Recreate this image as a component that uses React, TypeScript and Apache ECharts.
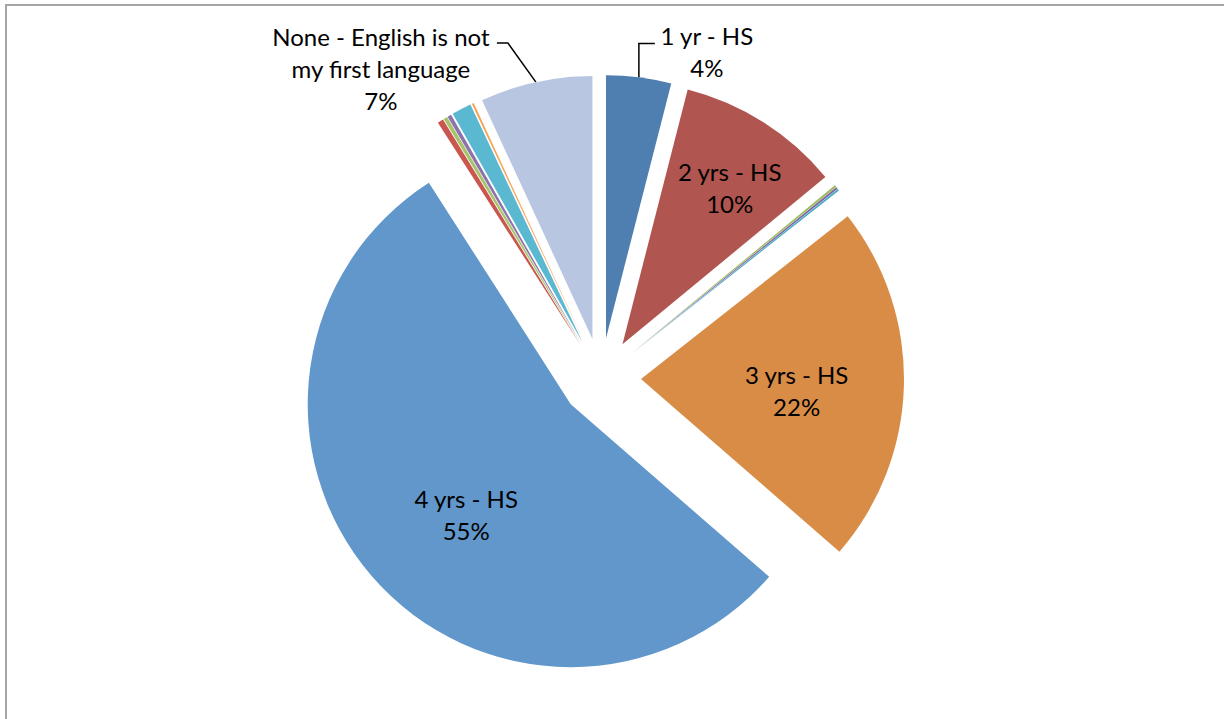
import React, { useEffect, useRef } from "react";
import * as echarts from "echarts";

// ---- data ----
const categories: string[] = [
  "1 yr - HS",
  "2 yrs - HS",
  "Other (a)",
  "Other (b)",
  "Other (c)",
  "3 yrs - HS",
  "4 yrs - HS",
  "Other (d)",
  "Other (e)",
  "Other (f)",
  "Other (g)",
  "Other (h)",
  "None - English is not my first language",
];
const counts: number[] = [33, 83, 1, 1, 1, 182, 451, 3, 2, 2, 10, 1, 57];
const sliceColors: string[] = [
  "#4F7EB0",
  "#B0554F",
  "#9BBB59",
  "#8064A2",
  "#4BACC6",
  "#D88C46",
  "#6197CB",
  "#C9564F",
  "#A6C56A",
  "#8D73AE",
  "#5AB8D1",
  "#F9A352",
  "#B9C6E1",
];
const labelWraps: Record<string, string> = {
  "None - English is not my first language": "None - English is not\nmy first language",
};

// ---- layout ----
const CX = 601;
const CY = 378;
const R = 263;
const OFFSET = 40;

type Placement =
  | { kind: "inside"; dist: number; dAngle: number }
  | { kind: "outside"; elbow: [number, number]; end: [number, number]; center: [number, number] };

const labelPlacement: Record<string, Placement> = {
  "1 yr - HS": { kind: "outside", elbow: [0, -34], end: [16, -34], center: [68, -26] },
  "2 yrs - HS": { kind: "inside", dist: 230, dAngle: 1.6 },
  "3 yrs - HS": { kind: "inside", dist: 196, dAngle: 2.1 },
  "4 yrs - HS": { kind: "inside", dist: 192, dAngle: -4.6 },
  "None - English is not my first language": {
    kind: "outside",
    elbow: [-28, -39],
    end: [-39, -39],
    center: [-155, -14],
  },
};

const total = counts.reduce((a, b) => a + b, 0);

function midAngle(i: number): number {
  let before = 0;
  for (let k = 0; k < i; k++) before += counts[k];
  return ((before + counts[i] / 2) / total) * 360;
}
function dirOf(deg: number): [number, number] {
  const a = (deg * Math.PI) / 180;
  return [Math.sin(a), -Math.cos(a)];
}

export default function App() {
  const ref = useRef<HTMLDivElement>(null);
  useEffect(() => {
    if (!ref.current) return;
    const chart = echarts.init(ref.current, undefined, { renderer: "svg" });
    const sliceData = categories.map((name, i) => ({
      name,
      value: counts[i],
      selected: true,
      itemStyle: { color: sliceColors[i] },
    }));
    const labelData = categories.map((name, i) => {
      const p = labelPlacement[name];
      return {
        name,
        value: counts[i],
        label: p
          ? { show: true, position: p.kind === "inside" ? "inside" : "outside" }
          : { show: false },
        labelLine: p && p.kind === "outside" ? { show: true } : { show: false },
      };
    });
    chart.setOption({
      animation: false,
      backgroundColor: "#ffffff",
      graphic: [
        {
          type: "line",
          shape: { x1: 5, y1: 5, x2: 1224, y2: 5 },
          style: { stroke: "#a6a6a6", lineWidth: 2 },
        },
        {
          type: "line",
          shape: { x1: 6, y1: 4, x2: 6, y2: 719 },
          style: { stroke: "#a6a6a6", lineWidth: 2 },
        },
      ],
      series: [
        {
          type: "pie",
          center: [CX, CY],
          radius: R,
          startAngle: 90,
          clockwise: true,
          selectedMode: "multiple",
          selectedOffset: OFFSET,
          emphasis: { scale: false, disabled: true },
          itemStyle: { borderWidth: 0 },
          label: { show: false },
          labelLine: { show: false },
          data: sliceData,
        },
        {
          type: "pie",
          center: [CX, CY],
          radius: R,
          startAngle: 90,
          clockwise: true,
          silent: true,
          selectedMode: false,
          avoidLabelOverlap: false,
          emphasis: { scale: false, disabled: true },
          itemStyle: { color: "rgba(0,0,0,0)", borderWidth: 0 },
          label: {
            color: "#000000",
            fontFamily: "Lato",
            fontSize: 24,
            lineHeight: 32,
            align: "center",
            formatter: (params: any) => {
              const nm = labelWraps[params.name] ?? params.name;
              const pct = Math.round((params.value / total) * 100);
              return `${nm}\n${pct}%`;
            },
          },
          labelLine: {
            lineStyle: { color: "#000000", width: 1.5 },
          },
          labelLayout: (params: any) => {
            const i = params.dataIndex;
            const p = labelPlacement[categories[i]];
            if (!p) return {};
            if (p.kind === "inside") {
              const d = dirOf(midAngle(i) + p.dAngle);
              return {
                x: CX + d[0] * p.dist,
                y: CY + d[1] * p.dist,
                align: "center",
                verticalAlign: "middle",
              };
            }
            const d = dirOf(midAngle(i));
            const ax = CX + d[0] * (OFFSET + R);
            const ay = CY + d[1] * (OFFSET + R);
            return {
              x: ax + p.center[0],
              y: ay + p.center[1],
              align: "center",
              verticalAlign: "middle",
              labelLinePoints: [
                [ax, ay],
                [ax + p.elbow[0], ay + p.elbow[1]],
                [ax + p.end[0], ay + p.end[1]],
              ],
            };
          },
          data: labelData,
        },
      ],
    });
    return () => chart.dispose();
  }, []);
  return (
    <div
      ref={ref}
      style={{ position: "fixed", left: 0, top: 0, width: 1224, height: 719 }}
    />
  );
}
